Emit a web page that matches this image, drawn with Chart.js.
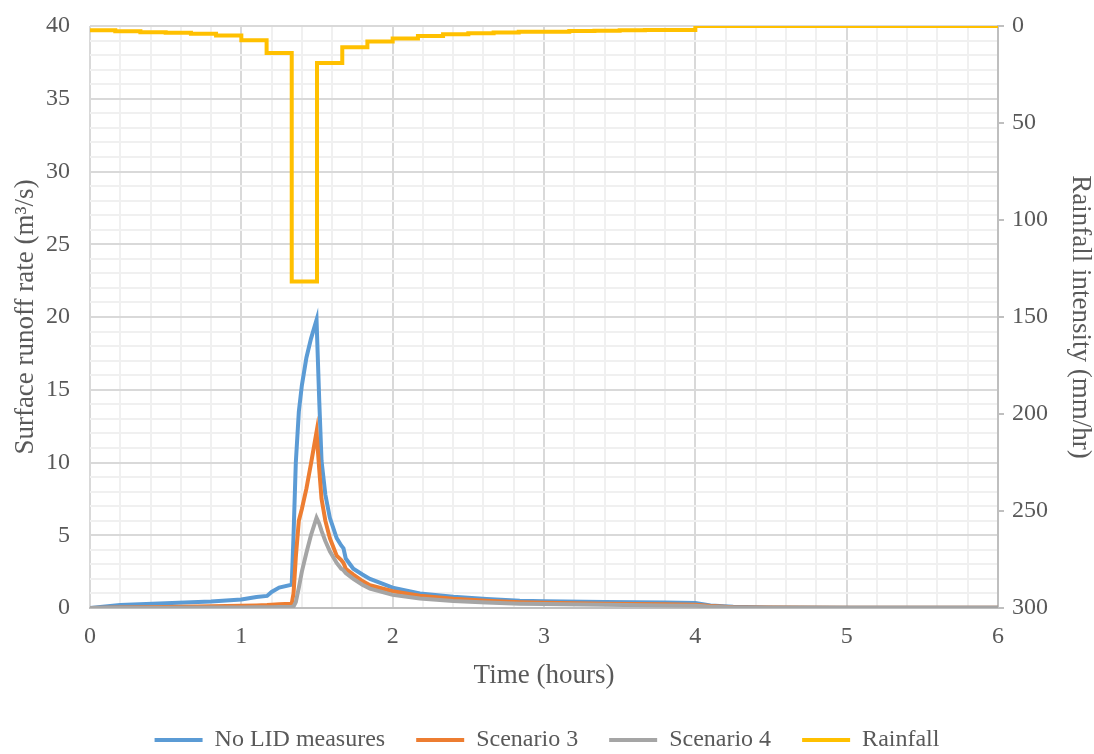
<!DOCTYPE html>
<html>
<head>
<meta charset="utf-8">
<script src="https://cdn.jsdelivr.net/npm/chart.js@4.4.0/dist/chart.umd.min.js"></script>
<style>
    html, body { margin: 0; padding: 0; background: #ffffff; }
    #wrap { width: 1094px; height: 754px; }
</style>
</head>
<body>
<div id="wrap"><canvas id="runoffChart" width="1094" height="754"></canvas></div>
<script>
// time axis (hours) shared by the three runoff series
const timeHours = [0, 0.2, 0.5, 0.8, 1.0, 1.1, 1.17, 1.2, 1.25, 1.333,
    1.345, 1.36, 1.38, 1.40, 1.43, 1.46, 1.497, 1.515, 1.53, 1.555,
    1.585, 1.63, 1.66, 1.675, 1.69, 1.74, 1.8, 1.85, 2.0, 2.18,
    2.4, 2.62, 2.84, 3.0, 3.4, 3.8, 4.0, 4.1, 4.25, 4.5,
    5.0, 6.0];

// surface runoff rate (m3/s)
const noLid = [0, 0.2, 0.33, 0.45, 0.58, 0.75, 0.83, 1.1, 1.4, 1.6,
    5.0, 10.0, 13.5, 15.3, 17.2, 18.5, 19.8, 14.2, 10.1, 7.8,
    6.2, 4.8, 4.3, 4.1, 3.4, 2.7, 2.3, 2.0, 1.4, 1.0,
    0.78, 0.62, 0.5, 0.47, 0.42, 0.37, 0.34, 0.18, 0.08, 0.04,
    0.02, 0.01];
const scenario3 = [0, 0.03, 0.07, 0.12, 0.15, 0.18, 0.2, 0.22, 0.25, 0.3,
    1.0, 3.5, 6.0, 6.8, 8.2, 9.9, 12.1, 9.5, 7.5, 6.0,
    4.8, 3.6, 3.3, 3.1, 2.7, 2.3, 1.85, 1.56, 1.15, 0.85,
    0.64, 0.5, 0.4, 0.36, 0.3, 0.25, 0.23, 0.13, 0.06, 0.03,
    0.02, 0.01];
const scenario4 = [0, 0.01, 0.02, 0.03, 0.04, 0.05, 0.05, 0.06, 0.07, 0.08,
    0.1, 0.4, 1.4, 2.5, 3.8, 5.0, 6.2, 5.8, 5.3, 4.6,
    3.9, 3.1, 2.7, 2.6, 2.4, 2.0, 1.6, 1.33, 0.9, 0.65,
    0.48, 0.37, 0.3, 0.27, 0.22, 0.18, 0.16, 0.09, 0.04, 0.02,
    0.01, 0.01];

// rainfall intensity (mm/hr), 10 minute blocks
const rainTime = [0, 0.167, 0.333, 0.5, 0.667, 0.833, 1.0, 1.167, 1.333, 1.5,
    1.667, 1.833, 2.0, 2.167, 2.333, 2.5, 2.667, 2.833, 3.0, 3.167,
    3.333, 3.5, 3.667, 3.833, 4.0, 6.0];
const rainfall = [2.2, 2.7, 3.2, 3.5, 4.0, 4.9, 7.3, 13.9, 131.7, 19.1,
    11.0, 8.0, 6.5, 5.1, 4.3, 3.7, 3.4, 3.0, 2.9, 2.6,
    2.4, 2.2, 2.1, 2.0, 0, 0];

const seriesNames = ["No LID measures", "Scenario 3", "Scenario 4", "Rainfall"];
const seriesColors = ["#5B9BD5", "#ED7D31", "#A5A5A5", "#FFC000"];

const FONT = "'Liberation Serif', 'Times New Roman', serif";
const TEXT_COLOR = "#595959";
const MAJOR_GRID = "#D9D9D9";
const MINOR_GRID = "#F0F0F0";

function toPoints(xs, ys) {
    return xs.map((x, i) => ({ x: x, y: ys[i] }));
}

function isWhole(v, step) {
    return Math.abs(v / step - Math.round(v / step)) < 1e-6;
}

const ctx = document.getElementById('runoffChart').getContext('2d');

const runoffSeries = [noLid, scenario3, scenario4];
const datasets = runoffSeries.map((vals, i) => ({
    label: seriesNames[i],
    data: toPoints(timeHours, vals),
    borderColor: seriesColors[i],
    backgroundColor: seriesColors[i],
    borderWidth: 4,
    pointRadius: 0,
    pointStyle: 'line',
    tension: 0,
    yAxisID: 'y',
    order: 4 - i
}));
datasets.push({
    label: seriesNames[3],
    data: toPoints(rainTime, rainfall),
    borderColor: seriesColors[3],
    backgroundColor: seriesColors[3],
    borderWidth: 4,
    pointRadius: 0,
    pointStyle: 'line',
    stepped: true,
    yAxisID: 'y2',
    order: 1
});

window.runoffChart = new Chart(ctx, {
    type: 'line',
    data: { datasets: datasets },
    options: {
        responsive: false,
        devicePixelRatio: 1,
        animation: false,
        layout: { padding: { top: 26, right: 0, left: 0, bottom: -8 } },
        plugins: {
            tooltip: { enabled: false },
            legend: {
                position: 'bottom',
                labels: {
                    usePointStyle: true,
                    pointStyleWidth: 48,
                    padding: 31,
                    color: TEXT_COLOR,
                    font: { family: FONT, size: 24 },
                    sort: (a, b) => a.datasetIndex - b.datasetIndex
                }
            }
        },
        scales: {
            x: {
                type: 'linear',
                min: 0,
                max: 6,
                ticks: {
                    stepSize: 0.2,
                    autoSkip: false,
                    maxRotation: 0,
                    padding: 14,
                    color: TEXT_COLOR,
                    font: { family: FONT, size: 24 },
                    callback: v => isWhole(v, 1) ? Math.round(v) : ''
                },
                grid: {
                    drawTicks: false,
                    lineWidth: 2,
                    color: c => isWhole(c.tick.value, 1) ? MAJOR_GRID : MINOR_GRID
                },
                border: { display: true, color: '#BFBFBF', width: 2 },
                title: {
                    display: true,
                    text: 'Time (hours)',
                    color: TEXT_COLOR,
                    font: { family: FONT, size: 27 },
                    padding: { top: 8, bottom: 5 }
                },
                afterFit: s => { s.height = 89; }
            },
            y: {
                position: 'left',
                min: 0,
                max: 40,
                ticks: {
                    stepSize: 1,
                    autoSkip: false,
                    padding: 20,
                    color: TEXT_COLOR,
                    font: { family: FONT, size: 24 },
                    callback: v => isWhole(v, 5) ? v : ''
                },
                grid: {
                    drawTicks: false,
                    lineWidth: 2,
                    color: c => isWhole(c.tick.value, 5) ? MAJOR_GRID : MINOR_GRID
                },
                border: { display: false },
                title: {
                    display: true,
                    text: 'Surface runoff rate (m³/s)',
                    color: TEXT_COLOR,
                    font: { family: FONT, size: 27 },
                    padding: { top: 10, bottom: 4 }
                },
                afterFit: s => {
                    s.width = 90;
                    s.paddingTop = 0;
                    s.paddingBottom = 0;
                }
            },
            y2: {
                position: 'right',
                reverse: true,
                min: 0,
                max: 300,
                ticks: {
                    stepSize: 50,
                    padding: 8,
                    color: TEXT_COLOR,
                    font: { family: FONT, size: 24 }
                },
                grid: {
                    drawOnChartArea: false,
                    drawTicks: true,
                    tickLength: 6,
                    lineWidth: 2,
                    color: '#BFBFBF'
                },
                border: { display: true, color: '#BFBFBF', width: 2 },
                title: {
                    display: true,
                    text: 'Rainfall intensity (mm/hr)',
                    color: TEXT_COLOR,
                    font: { family: FONT, size: 27 },
                    padding: { top: -2, bottom: 0 }
                },
                afterFit: s => {
                    s.width = 96;
                    s.paddingTop = 0;
                    s.paddingBottom = 0;
                }
            }
        }
    }
});
</script>
</body>
</html>
